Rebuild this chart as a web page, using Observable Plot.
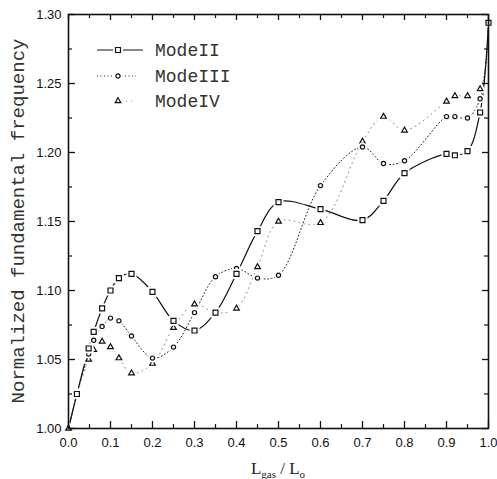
<!DOCTYPE html>
<html><head><meta charset="utf-8">
<script src="https://cdn.jsdelivr.net/npm/d3@7"></script>
<script src="https://cdn.jsdelivr.net/npm/@observablehq/plot@0.6"></script>
<style>body{margin:0;background:#fff}</style>
</head><body><div id="chart"></div>
<script>
// ---- data ----
const xs      = [0, 0.02, 0.048, 0.06, 0.08, 0.10, 0.12, 0.15, 0.20, 0.25, 0.30, 0.35, 0.40, 0.45, 0.50, 0.60, 0.70, 0.75, 0.80, 0.90, 0.92, 0.95, 0.98, 1.00];
const modeII  = [1.000, 1.025, 1.058, 1.070, 1.087, 1.100, 1.109, 1.112, 1.099, 1.078, 1.071, 1.084, 1.112, 1.143, 1.164, 1.159, 1.151, 1.165, 1.185, 1.199, 1.198, 1.201, 1.229, 1.294];
const modeIII = [1.000, 1.025, 1.054, 1.064, 1.074, 1.080, 1.078, 1.067, 1.051, 1.059, 1.084, 1.110, 1.116, 1.109, 1.111, 1.176, 1.204, 1.192, 1.194, 1.226, 1.226, 1.225, 1.239, 1.294];
const modeIV  = [1.000, 1.025, 1.050, 1.057, 1.063, 1.059, 1.051, 1.040, 1.047, 1.073, 1.090, 1.084, 1.087, 1.117, 1.150, 1.149, 1.208, 1.226, 1.216, 1.237, 1.241, 1.241, 1.246, 1.294];
const seriesNames = ["ModeII", "ModeIII", "ModeIV"];
const xMajor = [0, 0.1, 0.2, 0.3, 0.4, 0.5, 0.6, 0.7, 0.8, 0.9, 1.0];
const xMinor = [0.05, 0.15, 0.25, 0.35, 0.45, 0.55, 0.65, 0.75, 0.85, 0.95];
const yMajor = [1.00, 1.05, 1.10, 1.15, 1.20, 1.25, 1.30];
const yMinor = [1.025, 1.075, 1.125, 1.175, 1.225, 1.275];
const yLabel = "Normalized fundamental frequency";

// ---- layout ----
const W = 497, H = 479, mL = 68, mR = 9, mT = 14, mB = 51;
const iW = W - mL - mR, iH = H - mT - mB;

const rows = (ys) => xs.map((x, i) => ({x, y: ys[i]}));
const d2 = rows(modeII), d3s = rows(modeIII), d4 = rows(modeIV);
const noOrigin = (d) => d.filter(p => p.x > 0);

const sym = {ModeII: "square", ModeIII: "circle", ModeIV: "triangle"};
const rr  = {ModeII: 2.8, ModeIII: 2.1, ModeIV: 2.1};

function markers(data, name) {
  return [
    Plot.dot(data, {x: "x", y: "y", symbol: sym[name], r: rr[name], fill: "white", stroke: "white", strokeWidth: 5}),
    Plot.dot(data, {x: "x", y: "y", symbol: sym[name], r: rr[name], fill: "white", stroke: "#111", strokeWidth: 1.2})
  ];
}

const chart = Plot.plot({
  width: W, height: H,
  marginLeft: mL, marginRight: mR, marginTop: mT, marginBottom: mB,
  style: {fontFamily: "'Liberation Sans', Arial, sans-serif", fontSize: "13px", color: "#111", background: "white"},
  x: {domain: [0, 1], ticks: xMajor},
  y: {domain: [1.0, 1.3], ticks: yMajor},
  marks: [
    // curves
    Plot.line(d4, {x: "x", y: "y", curve: "catmull-rom", stroke: "#888", strokeWidth: 1, strokeDasharray: "1,4"}),
    Plot.line(d3s, {x: "x", y: "y", curve: "catmull-rom", stroke: "#222", strokeWidth: 1, strokeDasharray: "1,2.5"}),
    Plot.line(d2, {x: "x", y: "y", curve: "catmull-rom", stroke: "#111", strokeWidth: 1.2}),
    // markers
    ...markers(d4, "ModeIV"),
    ...markers(noOrigin(d3s), "ModeIII"),
    ...markers(noOrigin(d2), "ModeII"),
    // inward ticks
    Plot.ruleX(xMajor, {x: d => d, insetTop: iH - 7, stroke: "#111", strokeWidth: 1.3}),
    Plot.ruleX(xMinor, {x: d => d, insetTop: iH - 4, stroke: "#111", strokeWidth: 1.2}),
    Plot.ruleX(xMajor, {x: d => d, insetBottom: iH - 6, stroke: "#111", strokeWidth: 1.3}),
    Plot.ruleX(xMinor, {x: d => d, insetBottom: iH - 4, stroke: "#111", strokeWidth: 1.2}),
    Plot.ruleY(yMajor, {y: d => d, insetRight: iW - 7, stroke: "#111", strokeWidth: 1.3}),
    Plot.ruleY(yMinor, {y: d => d, insetRight: iW - 4, stroke: "#111", strokeWidth: 1.2}),
    Plot.ruleY(yMajor, {y: d => d, insetLeft: iW - 6, stroke: "#111", strokeWidth: 1.3}),
    Plot.ruleY(yMinor, {y: d => d, insetLeft: iW - 4, stroke: "#111", strokeWidth: 1.2}),
    // axes (labels only)
    Plot.axisX(xMajor, {anchor: "bottom", tickSize: 0, tickPadding: 9, tickFormat: d3.format(".1f"), label: null}),
    Plot.axisY(yMajor, {anchor: "left", tickSize: 0, tickPadding: 7, tickFormat: d3.format(".2f"), label: null}),
    Plot.frame({stroke: "#111", strokeWidth: 1.6})
  ]
});

document.getElementById("chart").appendChild(chart);

// ---- y axis title ----
const svg = d3.select(chart);
svg.append("text")
  .attr("transform", `translate(24,${mT + iH / 2}) rotate(-90)`)
  .attr("text-anchor", "middle")
  .attr("font-family", "'Liberation Mono', 'DejaVu Sans Mono', monospace")
  .attr("font-size", 19)
  .attr("fill", "#333")
  .text(yLabel);

// ---- x axis title: L_gas / L_o ----
const xt = svg.append("text")
  .attr("x", mL + iW / 2)
  .attr("y", 474)
  .attr("text-anchor", "middle")
  .attr("font-family", "'Liberation Serif', 'DejaVu Serif', serif")
  .attr("font-size", 17)
  .attr("fill", "#222");
xt.append("tspan").text("L");
xt.append("tspan").attr("font-size", 11).attr("dy", 4).text("gas");
xt.append("tspan").attr("dy", -4).text(" / L");
xt.append("tspan").attr("font-size", 11).attr("dy", 4).text("o");

// ---- legend ----
const lg = svg.append("g");
const legendRows = [
  {name: seriesNames[0], y: 50, dash: null, stroke: "#111", x1: 97, x2: 143, w: 1.2},
  {name: seriesNames[1], y: 76, dash: "1,2.5", stroke: "#222", x1: 97, x2: 136, w: 1},
  {name: seriesNames[2], y: 101, dash: "1,4", stroke: "#888", x1: 126, x2: 136, w: 1}
];
const symGen = {ModeII: d3.symbolSquare, ModeIII: d3.symbolCircle, ModeIV: d3.symbolTriangle};
legendRows.forEach(r => {
  const line = lg.append("line").attr("x1", r.x1).attr("x2", r.x2).attr("y1", r.y).attr("y2", r.y)
    .attr("stroke", r.stroke).attr("stroke-width", r.w);
  if (r.dash) line.attr("stroke-dasharray", r.dash);
  const size = Math.PI * rr[r.name] * rr[r.name];
  lg.append("path").attr("d", d3.symbol(symGen[r.name], size)()).attr("transform", `translate(118,${r.y})`)
    .attr("fill", "white").attr("stroke", "white").attr("stroke-width", 5);
  lg.append("path").attr("d", d3.symbol(symGen[r.name], size)()).attr("transform", `translate(118,${r.y})`)
    .attr("fill", "white").attr("stroke", "#111").attr("stroke-width", 1.2);
  lg.append("text").attr("x", 155).attr("y", r.y + 6)
    .attr("text-anchor", "start")
    .attr("font-family", "'Liberation Mono', 'DejaVu Sans Mono', monospace")
    .attr("font-size", 18).attr("fill", "#333").text(r.name);
});
</script>
</body></html>
